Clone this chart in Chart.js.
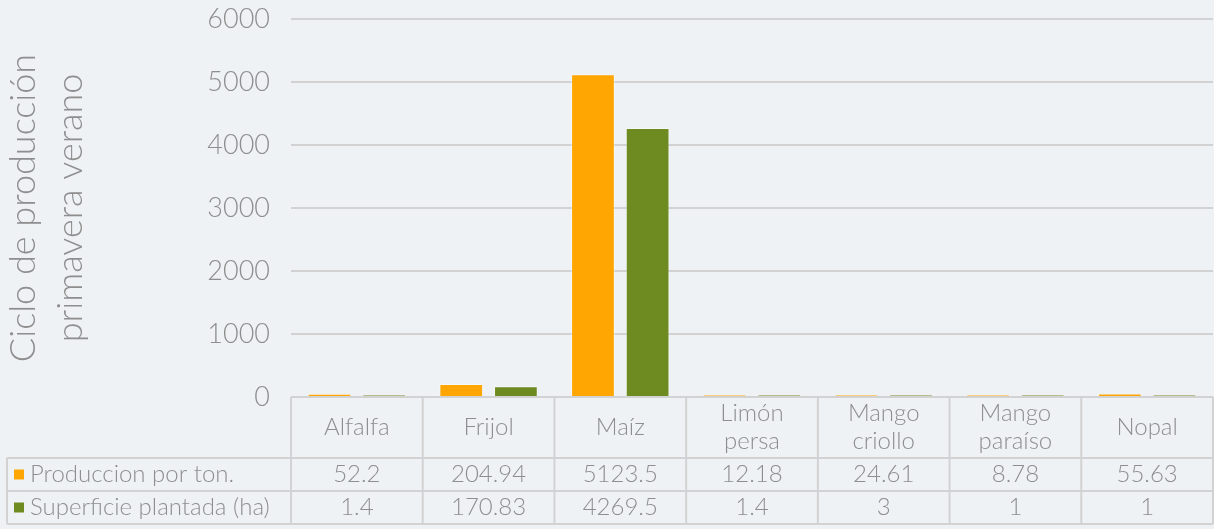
<!DOCTYPE html>
<html>
<head>
<meta charset="utf-8">
<script src="https://cdn.jsdelivr.net/npm/chart.js@4/dist/chart.umd.min.js"></script>
<style>
  html, body { margin: 0; padding: 0; background: #eef2f5; }
  #wrap { width: 1214px; height: 529px; position: relative; }
</style>
</head>
<body>
<div id="wrap"><canvas id="chart"></canvas></div>
<script>
const categories = ['Alfalfa', 'Frijol', 'Maíz', ['Limón', 'persa'], ['Mango', 'criollo'], ['Mango', 'paraíso'], 'Nopal'];
const produccion = [52.2, 204.94, 5123.5, 12.18, 24.61, 8.78, 55.63];
const superficie = [1.4, 170.83, 4269.5, 1.4, 3, 1, 1];
const produccionText = ['52.2', '204.94', '5123.5', '12.18', '24.61', '8.78', '55.63'];
const superficieText = ['1.4', '170.83', '4269.5', '1.4', '3', '1', '1'];
const seriesNames = ['Produccion por ton.', 'Superficie plantada (ha)'];
const yTicks = [0, 1000, 2000, 3000, 4000, 5000, 6000];

const FONT = 'Lato, "Open Sans", sans-serif';
const TEXT = '#8e8e8e';
const LINE = '#d2d2d2';

// data table under the plot, one column per category
const dataTable = {
    id: 'dataTable',
    afterDraw(chart) {
        const ctx = chart.ctx;
        const area = chart.chartArea;
        const x = chart.scales.x;
        const n = categories.length;
        const colW = (area.right - area.left) / n;
        const headH = 61, rowH = 33;
        const top = area.bottom;
        const legendLeft = 7;
        const rows = [produccionText, superficieText];

        ctx.save();
        ctx.strokeStyle = LINE;
        ctx.lineWidth = 2;
        // horizontal lines
        ctx.beginPath();
        ctx.moveTo(area.left, top); ctx.lineTo(area.right, top);
        for (let r = 0; r <= 2; r++) {
            const y = top + headH + r * rowH;
            ctx.moveTo(legendLeft, y); ctx.lineTo(area.right, y);
        }
        // vertical lines
        for (let i = 0; i <= n; i++) {
            const lx = area.left + i * colW;
            ctx.moveTo(lx, top); ctx.lineTo(lx, top + headH + 2 * rowH);
        }
        ctx.moveTo(legendLeft, top + headH); ctx.lineTo(legendLeft, top + headH + 2 * rowH);
        ctx.stroke();

        ctx.fillStyle = TEXT;
        ctx.font = '300 24px ' + FONT;
        ctx.textAlign = 'center';
        ctx.textBaseline = 'middle';
        categories.forEach((c, i) => {
            const cx = x.getPixelForValue(i);
            const lines = Array.isArray(c) ? c : [c];
            const lh = 28;
            const y0 = top + headH / 2 - (lines.length - 1) * lh / 2;
            lines.forEach((l, k) => ctx.fillText(l, cx, y0 + k * lh));
        });
        rows.forEach((row, r) => {
            const cy = top + headH + r * rowH + rowH / 2;
            row.forEach((v, i) => ctx.fillText(v, x.getPixelForValue(i), cy));
            // legend key
            ctx.fillStyle = chart.data.datasets[r].backgroundColor;
            ctx.fillRect(14, cy - 5, 10, 10);
            ctx.fillStyle = TEXT;
            ctx.textAlign = 'left';
            ctx.fillText(seriesNames[r], 30, cy);
            ctx.textAlign = 'center';
        });
        ctx.restore();
    }
};

new Chart(document.getElementById('chart'), {
    type: 'bar',
    data: {
        labels: categories,
        datasets: [
            { label: seriesNames[0], data: produccion, backgroundColor: '#ffa602', borderColor: 'rgba(255,255,255,0.45)', borderWidth: 1 },
            { label: seriesNames[1], data: superficie, backgroundColor: '#6e8b22', borderColor: 'rgba(255,255,255,0.45)', borderWidth: 1 }
        ]
    },
    options: {
        responsive: true,
        maintainAspectRatio: false,
        animation: false,
        categoryPercentage: 0.83,
        barPercentage: 0.8,
        minBarLength: 2,
        layout: { padding: { top: 19, right: 1, bottom: 132, left: 0 } },
        plugins: { legend: { display: false }, tooltip: { enabled: false } },
        scales: {
            x: { display: false },
            y: {
                min: 0, max: 6000,
                afterFit: s => { s.width = 291; s.paddingTop = 0; s.paddingBottom = 0; },
                afterBuildTicks: s => { s.ticks = yTicks.map(v => ({ value: v })); },
                border: { display: false },
                grid: { color: LINE, lineWidth: 2, drawTicks: false },
                ticks: {
                    color: TEXT, padding: 21,
                    font: { family: FONT, size: 27, weight: 300 },
                    callback: v => String(v)
                },
                title: {
                    display: true,
                    text: ['Ciclo de producción', 'primavera verano'],
                    color: TEXT,
                    font: { family: FONT, size: 36, weight: 300, lineHeight: 1.3 },
                    padding: { top: 0, bottom: 0 }
                }
            }
        }
    },
    plugins: [dataTable]
});
</script>
</body>
</html>
